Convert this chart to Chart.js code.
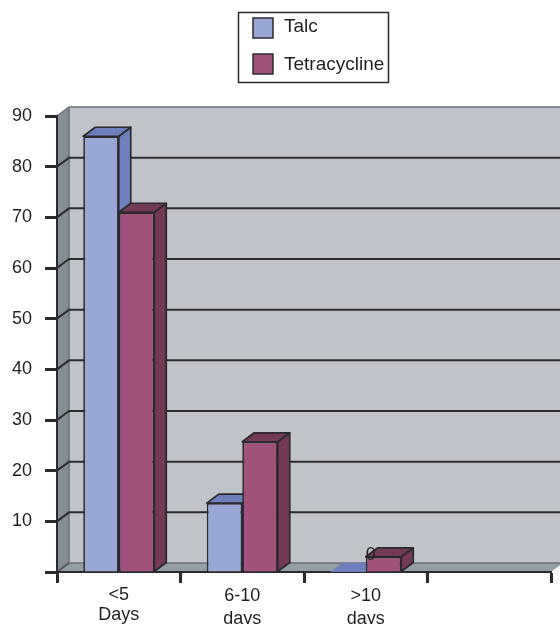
<!DOCTYPE html>
<html>
<head>
<meta charset="utf-8">
<style>
html, body { margin: 0; padding: 0; background: #fff; overflow: hidden; }
canvas { display: block; }
</style>
<script src="https://cdn.jsdelivr.net/npm/chart.js@4"></script>
</head>
<body>
<canvas id="chart1" width="560" height="624"></canvas>
<script>
const categories = [['<5', 'Days'], ['6-10', 'days'], ['>10', 'days'], ''];
const talc = [86, 13.6, 0, null];
const tetracycline = [71, 25.7, 3, null];
const talcPointLabels = ['', '', '0', ''];
const yTicks = [10, 20, 30, 40, 50, 60, 70, 80, 90];

const dx = 12, dy = 9;   // depth of the fake 3d
const ink = '#231f20';
const edge = '#2b2a2e';
const fontName = '"Liberation Sans", Arial, sans-serif';

function poly(ctx, pts, fill, stroke, lw) {
  ctx.beginPath();
  pts.forEach((p, i) => i ? ctx.lineTo(p[0], p[1]) : ctx.moveTo(p[0], p[1]));
  ctx.closePath();
  if (fill) { ctx.fillStyle = fill; ctx.fill(); }
  if (stroke) { ctx.strokeStyle = stroke; ctx.lineWidth = lw; ctx.lineJoin = 'round'; ctx.stroke(); }
}

const walls = {
  id: 'walls',
  beforeDraw(chart) {
    const ctx = chart.ctx, a = chart.chartArea, y = chart.scales.y;
    ctx.save();
    poly(ctx, [[a.left + dx, a.top - dy], [a.right + dx, a.top - dy], [a.right + dx, a.bottom - dy], [a.left + dx, a.bottom - dy]], '#c0c3ca');
    poly(ctx, [[a.left, a.top], [a.left + dx, a.top - dy], [a.left + dx, a.bottom - dy], [a.left, a.bottom]], '#858e94');
    poly(ctx, [[a.left, a.bottom], [a.left + dx, a.bottom - dy], [a.right + dx, a.bottom - dy], [a.right, a.bottom]], '#959ea4');
    // top and floor edges of the wall
    ctx.strokeStyle = '#6d7177';
    ctx.lineWidth = 1.5;
    ctx.beginPath();
    ctx.moveTo(a.left, a.top); ctx.lineTo(a.left + dx, a.top - dy); ctx.lineTo(a.right + dx, a.top - dy);
    ctx.moveTo(a.left + dx, a.top - dy); ctx.lineTo(a.left + dx, a.bottom - dy);
    ctx.moveTo(a.left + dx, a.bottom - dy); ctx.lineTo(a.right + dx, a.bottom - dy);
    ctx.stroke();
    // grid lines run up the side wall then across the back
    ctx.strokeStyle = edge;
    ctx.lineWidth = 2;
    yTicks.forEach(v => {
      if (v === 90) return;
      const py = y.getPixelForValue(v);
      ctx.beginPath();
      ctx.moveTo(a.left, py);
      ctx.lineTo(a.left + dx, py - dy);
      ctx.lineTo(a.right + dx, py - dy);
      ctx.stroke();
    });
    ctx.beginPath();
    ctx.moveTo(a.left, a.bottom);
    ctx.lineTo(a.left + dx, a.bottom - dy);
    ctx.strokeStyle = '#55595e';
    ctx.stroke();
    ctx.restore();
  },
  beforeDatasetsDraw(chart) {
    const ctx = chart.ctx;
    ctx.save();
    chart.data.datasets.forEach((ds, i) => {
      chart.getDatasetMeta(i).data.forEach((bar, j) => {
        if (ds.data[j] === null) return;
        const p = bar.getProps(['x', 'y', 'base', 'width'], true);
        const l = p.x - p.width / 2, r = p.x + p.width / 2;
        // a zero bar only shows a flat top without the dark outline
        const line = ds.data[j] === 0 ? null : edge;
        if (line) poly(ctx, [[r, p.y], [r + dx, p.y - dy], [r + dx, p.base - dy], [r, p.base]], ds.sideColor, line, 1.7);
        poly(ctx, [[l, p.y], [l + dx, p.y - dy], [r + dx, p.y - dy], [r, p.y]], ds.sideColor, line, 1.7);
      });
    });
    ctx.restore();
  },
  afterDraw(chart) {
    const ctx = chart.ctx;
    ctx.save();
    // point label
    ctx.font = '18px ' + fontName;
    ctx.fillStyle = ink;
    ctx.textAlign = 'center';
    ctx.textBaseline = 'middle';
    chart.getDatasetMeta(0).data.forEach((bar, j) => {
      if (!talcPointLabels[j]) return;
      const p = bar.getProps(['x', 'y', 'width'], true);
      ctx.fillText(talcPointLabels[j], p.x + p.width / 2 + 5, p.y - 17);
    });
    // legend box
    ctx.strokeStyle = edge;
    ctx.lineWidth = 1.5;
    ctx.strokeRect(238.5, 12.5, 150, 70);
    ctx.font = '19px ' + fontName;
    ctx.textAlign = 'left';
    chart.data.datasets.forEach((ds, i) => {
      const top = 18 + i * 36;
      ctx.fillStyle = ds.backgroundColor;
      ctx.fillRect(253, top, 20, 20);
      ctx.strokeRect(253, top, 20, 20);
      ctx.fillStyle = ink;
      ctx.fillText(ds.label, 284, 27 + i * 38);
    });
    ctx.restore();
  }
};

new Chart(document.getElementById('chart1'), {
  type: 'bar',
  data: {
    labels: categories,
    datasets: [
      { label: 'Talc', data: talc, backgroundColor: '#9aa6d3', sideColor: '#6e80bb', borderColor: edge, borderWidth: 1.7 },
      { label: 'Tetracycline', data: tetracycline, backgroundColor: '#a0527a', sideColor: '#733a58', borderColor: edge, borderWidth: 1.7 }
    ]
  },
  options: {
    responsive: false,
    animation: false,
    layout: { padding: { top: 116, right: 9, left: 0, bottom: 0 } },
    datasets: { bar: { barPercentage: 1, categoryPercentage: 0.575 } },
    plugins: { legend: { display: false }, tooltip: { enabled: false } },
    scales: {
      x: {
        grid: { drawOnChartArea: false, drawTicks: true, tickLength: 11, tickWidth: 3, tickColor: edge },
        border: { color: edge, width: 2 },
        ticks: {
          color: ink,
          padding: 2,
          maxRotation: 0,
          autoSkip: false,
          // first label sits a bit tighter in the reference
          font: c => ({ family: fontName, size: 18, lineHeight: c.index === 0 ? 20 / 18 : 23 / 18 })
        },
        afterFit(scale) { scale.height = 52; }
      },
      y: {
        min: 0,
        max: 90,
        grid: { drawOnChartArea: false, tickLength: 12, tickWidth: 3, tickColor: edge },
        border: { color: edge, width: 2 },
        ticks: {
          stepSize: 10,
          color: ink,
          padding: 13,
          font: { family: fontName, size: 18 },
          callback: v => yTicks.includes(v) ? v : ''
        },
        afterFit(scale) { scale.width = 57; }
      }
    }
  },
  plugins: [walls]
});
</script>
</body>
</html>
